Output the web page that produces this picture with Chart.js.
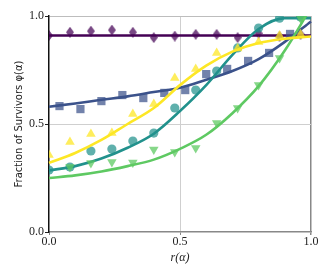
<!DOCTYPE html>
<html><head><meta charset="utf-8">
<script src="https://cdn.jsdelivr.net/npm/chart.js@4"></script>
<style>html,body{margin:0;padding:0;background:#fff}canvas{display:block}</style>
</head><body>
<canvas id="c" width="332" height="277"></canvas>
<script>
// ---- data ----
const markerX = [0, 0.08, 0.16, 0.24, 0.32, 0.40, 0.48, 0.56, 0.64, 0.72, 0.80, 0.88, 0.96];
const squareX = [0.04, 0.12, 0.20, 0.28, 0.36, 0.44, 0.52, 0.60, 0.68, 0.76, 0.84, 0.92];
const greenX  = [0.08, 0.16, 0.24, 0.32, 0.40, 0.48, 0.56, 0.64, 0.72, 0.80, 0.88, 0.96];

const purpleVals = [0.91, 0.925, 0.93, 0.935, 0.925, 0.90, 0.907, 0.915, 0.915, 0.90, 0.92, 0.905, 0.915];
const blueVals   = [0.583, 0.569, 0.606, 0.634, 0.620, 0.644, 0.657, 0.731, 0.755, 0.792, 0.829, 0.917];
const tealVals   = [0.287, 0.301, 0.375, 0.384, 0.421, 0.458, 0.574, 0.657, 0.745, 0.852, 0.944, 0.99, 0.995];
const greenVals  = [0.301, 0.319, 0.324, 0.322, 0.382, 0.370, 0.389, 0.505, 0.574, 0.68, 0.806, 0.99];
const yellowVals = [0.356, 0.417, 0.454, 0.458, 0.546, 0.593, 0.713, 0.755, 0.829, 0.85, 0.88, 0.91, 0.915];

const fitX       = [0, 0.1, 0.2, 0.3, 0.4, 0.5, 0.6, 0.7, 0.8, 0.9, 1.0];
const purpleFit  = [0.91, 0.91, 0.91, 0.91, 0.91, 0.91, 0.91, 0.91, 0.91, 0.91, 0.91];
const blueFit    = [0.58, 0.595, 0.612, 0.628, 0.648, 0.668, 0.705, 0.745, 0.80, 0.88, 0.975];
const tealFit    = [0.285, 0.305, 0.34, 0.39, 0.455, 0.56, 0.68, 0.82, 0.94, 0.99, 0.99];
const greenFit   = [0.25, 0.262, 0.28, 0.305, 0.335, 0.385, 0.45, 0.55, 0.675, 0.84, 1.04];
const yellowFit  = [0.32, 0.366, 0.426, 0.50, 0.574, 0.68, 0.77, 0.835, 0.875, 0.895, 0.905];

const xTickValues = [0, 0.5, 1.0];
const xTickLabels = ['0.0', '0.5', '1.0'];
const yTickValues = [0, 0.5, 1.0];
const yTickLabels = ['0.0', '0.5', '1.0'];
const xTitle = 'r(α)';
const yTitle = 'Fraction of Survivors φ(α)';

// ---- build chart ----
const pts = (xs, ys) => xs.map((x, i) => ({x: x, y: ys[i]}));

// elongated diamond marker
function diamondImage(color, w, h) {
  const cv = document.createElement('canvas');
  cv.width = w; cv.height = h;
  const g = cv.getContext('2d');
  g.fillStyle = color;
  g.beginPath();
  g.moveTo(w / 2, 0); g.lineTo(w, h / 2); g.lineTo(w / 2, h); g.lineTo(0, h / 2);
  g.closePath(); g.fill();
  return cv;
}

function markers(xs, ys, color, style, radius, rotation, order) {
  return {type: 'scatter', data: pts(xs, ys), pointStyle: style, pointRadius: radius,
    pointRotation: rotation, pointBackgroundColor: color, pointBorderWidth: 0,
    showLine: false, order: order};
}
function fit(ys, color, order, clip) {
  return {type: 'scatter', data: pts(fitX, ys), showLine: true, borderColor: color,
    borderWidth: 2.6, pointRadius: 0, cubicInterpolationMode: 'monotone', fill: false,
    order: order, clip: clip};
}

const datasets = [
  markers(markerX, purpleVals, 'rgba(68,1,84,0.72)', diamondImage('rgba(68,1,84,0.72)', 8, 11), 5, 0, 10),
  fit(purpleFit, '#440154', 9, 2),
  markers(squareX, blueVals, 'rgba(59,82,139,0.72)', 'rect', 5.8, 0, 8),
  fit(blueFit, '#3b528b', 7, 2),
  markers(markerX, tealVals, 'rgba(33,145,140,0.72)', 'circle', 4.6, 0, 6),
  fit(tealFit, '#21918c', 5, 2),
  markers(greenX, greenVals, 'rgba(94,201,98,0.75)', 'triangle', 5.5, 180, 4),
  fit(greenFit, '#5ec962', 3, 0),
  markers(markerX, yellowVals, 'rgba(253,231,37,0.75)', 'triangle', 5.5, 0, 2),
  fit(yellowFit, '#fde725', 1, 2)
];

const serif = 'Liberation Serif';
new Chart(document.getElementById('c'), {
  type: 'scatter',
  data: {datasets: datasets},
  options: {
    responsive: false, animation: false, devicePixelRatio: 1,
    layout: {padding: {top: 16, right: 21, left: 0, bottom: 0}},
    plugins: {legend: {display: false}, tooltip: {enabled: false}},
    scales: {
      x: {
        type: 'linear', min: 0, max: 1,
        afterBuildTicks: s => { s.ticks = xTickValues.map(v => ({value: v})); },
        afterFit: s => { s.height = 45; },
        ticks: {callback: (v, i) => xTickLabels[i], color: '#222', padding: 0,
          font: {family: serif, size: 12}, maxRotation: 0},
        grid: {
          color: c => c.tick && c.tick.value === 0 ? 'rgba(0,0,0,0)' : (c.tick && c.tick.value === 1 ? '#888' : '#cfcfcf'),
          lineWidth: c => c.tick && c.tick.value === 1 ? 1.5 : 1,
          tickLength: 3, tickColor: '#888', drawTicks: true
        },
        border: {color: '#888', width: 1.5},
        title: {display: true, text: xTitle, color: '#222',
          font: {family: serif, size: 12, style: 'italic'}, padding: {top: 0, bottom: 12}}
      },
      y: {
        type: 'linear', min: 0, max: 1,
        afterBuildTicks: s => { s.ticks = yTickValues.map(v => ({value: v})); },
        afterFit: s => { s.width = 49; },
        ticks: {callback: (v, i) => yTickLabels[i], color: '#222', padding: 1,
          font: {family: serif, size: 12}},
        grid: {
          color: c => c.tick && c.tick.value === 0 ? 'rgba(0,0,0,0)' : (c.tick && c.tick.value === 1 ? '#bdbdbd' : '#cfcfcf'),
          lineWidth: 1, tickLength: 4, tickColor: '#222', drawTicks: true
        },
        border: {color: '#111', width: 1.5},
        title: {display: true, text: yTitle, color: '#222',
          font: {family: 'DejaVu Sans', size: 10}, padding: {top: 13, bottom: 0}}
      }
    }
  }
});
</script>
</body></html>
